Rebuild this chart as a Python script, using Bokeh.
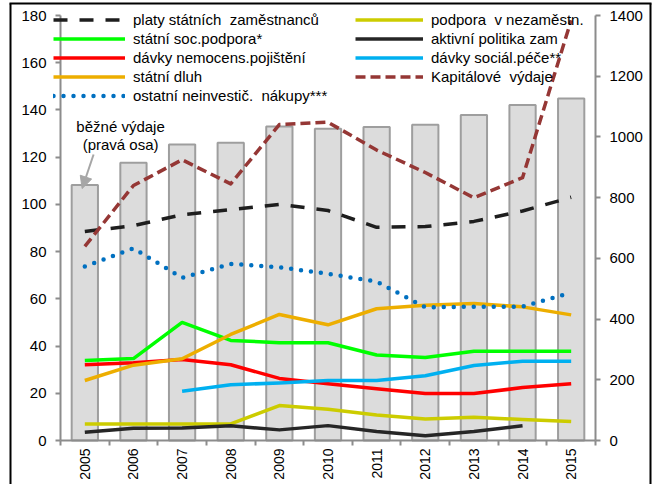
import math
from bokeh.plotting import figure
from bokeh.models import (Range1d, LinearAxis, FixedTicker, Legend, LegendItem,
                          Label, Arrow, NormalHead, ColumnDataSource)
from bokeh.embed import file_html
from bokeh.resources import INLINE

# ---------------- data ----------------
years = ["2005", "2006", "2007", "2008", "2009", "2010",
         "2011", "2012", "2013", "2014", "2015"]

# běžné výdaje (pravá osa) - bars
bezne_vydaje = [842, 915, 975, 981, 1034, 1027, 1033, 1040, 1072, 1105, 1127]

platy = [88.5, 91.0, 95.6, 97.8, 100.0, 97.4, 90.3, 90.6, 92.8, 97.2, 103.0]
soc_podpora = [33.9, 34.7, 50.0, 42.4, 41.4, 41.4, 36.2, 35.2, 37.8, 37.8, 37.8]
nemocens = [32.1, 32.9, 34.3, 32.1, 26.3, 24.0, 21.9, 19.9, 19.9, 22.4, 24.0]
dluh = [25.4, 31.9, 34.6, 44.9, 53.4, 49.0, 55.8, 57.3, 58.0, 56.6, 53.2]
ostatni = [73.7, 81.4, 68.9, 74.8, 73.4, 70.6, 67.3, 56.4, 56.7, 56.7, 62.6]
podpora_nezam = [7.0, 7.0, 7.0, 7.0, 14.8, 13.2, 10.8, 9.1, 9.8, 8.9, 8.0]
aktivni = [3.5, 5.2, 5.3, 6.2, 4.5, 6.3, 3.8, 2.0, 3.8, 6.2, None]
social_pece = [None, None, 20.9, 23.6, 24.4, 25.4, 25.4, 27.4, 31.8, 33.6, 33.6]
kapitalove = [82.2, 108.0, 118.9, 108.7, 133.8, 134.8, 123.0, 113.5, 102.8, 111.3, 178.0]

left_max, right_max = 180, 1400
left_ticks = list(range(0, left_max + 1, 20))
right_ticks = list(range(0, right_max + 1, 200))


def clean(vals):
    return [float("nan") if v is None else v for v in vals]


idx = list(range(len(years)))
n = len(years)
FONT = "Liberation Sans"
FS = "15px"
AXIS_GRAY = "#8C8C8C"

# ---------------- layout (pixels) ----------------
W, H = 652, 484
AX_L, AX_R, AX_T, AX_B = 60, 595, 15, 440   # plotting area of the axes
cw = (AX_R - AX_L) / n
ly = (AX_B - AX_T) / left_max
ry = (AX_B - AX_T) / right_max

def xd(px):
    return -0.5 + (px - AX_L) / cw

def yd(py):
    return (AX_B - py) / ly

p = figure(width=W, height=H, output_backend="svg", toolbar_location=None,
           x_range=Range1d(xd(0), xd(W)), y_range=Range1d(yd(H), yd(0)),
           min_border_left=0, min_border_right=0, min_border_top=0,
           min_border_bottom=0)
p.extra_y_ranges = {"right": Range1d(-(H - AX_B) / ry, AX_B / ry)}
p.outline_line_color = None
p.xgrid.visible = False
p.ygrid.visible = False
p.background_fill_color = "white"

# bars (right axis)
bar_src = ColumnDataSource(dict(x=idx, top=bezne_vydaje))
p.vbar(x="x", top="top", bottom=0, width=0.54, source=bar_src,
       fill_color="#DCDCDC", line_color="#9E9E9E", line_width=2,
       y_range_name="right")

def add_line(vals, color, dash="solid", width=3.5, cap="butt"):
    src = ColumnDataSource(dict(x=idx, y=clean(vals)))
    return p.line("x", "y", source=src, line_color=color, line_width=width,
                  line_dash=dash, line_cap=cap, line_join="round")

r_podpora = add_line(podpora_nezam, "#CCCC00")
r_aktivni = add_line(aktivni, "#262626")
r_nemoc = add_line(nemocens, "#FF0000")
r_social = add_line(social_pece, "#00B0F0")
r_soc = add_line(soc_podpora, "#00FF00")
r_dluh = add_line(dluh, "#EDAE00")
r_ost = add_line(ostatni, "#0070C0", dash="0 10", width=4.5, cap="round")
r_platy = add_line(platy, "#1E1E1E", dash="14 12")
r_kap = add_line(kapitalove, "#953735", dash="10 5")

# axes
p.yaxis.ticker = FixedTicker(ticks=left_ticks)
p.yaxis.fixed_location = -0.5
p.yaxis.bounds = (0, left_max)
p.xaxis.ticker = FixedTicker(ticks=idx, minor_ticks=[i - 0.5 for i in range(n + 1)])
p.xaxis.fixed_location = 0
p.xaxis.bounds = (-0.5, n - 0.5)
p.xaxis.major_label_overrides = {i: y for i, y in enumerate(years)}
p.xaxis.major_label_orientation = math.pi / 2
p.xaxis.major_tick_line_color = None
p.xaxis.major_tick_out = 0
p.xaxis.major_tick_in = 0
p.xaxis.minor_tick_out = 5
p.xaxis.minor_tick_in = 0
p.xaxis.minor_tick_line_color = AXIS_GRAY
p.xaxis.minor_tick_line_width = 2

right_axis = LinearAxis(y_range_name="right", ticker=FixedTicker(ticks=right_ticks),
                        fixed_location=n - 0.5, bounds=(0, right_max))
p.add_layout(right_axis, "right")

for ax in [p.xaxis[0], p.yaxis[0], right_axis]:
    ax.axis_line_color = AXIS_GRAY
    ax.axis_line_width = 2
    ax.major_label_text_font = FONT
    ax.major_label_text_font_size = FS
    ax.major_label_text_color = "black"
for ax in [p.yaxis[0], right_axis]:
    ax.major_tick_out = 5
    ax.major_tick_in = 0
    ax.major_tick_line_color = AXIS_GRAY
    ax.major_tick_line_width = 2
    ax.minor_tick_line_color = None
    ax.major_label_standoff = 9
p.xaxis.major_label_text_font_size = "14px"
p.xaxis.major_label_standoff = 3

# legends
def style_legend(leg, gw):
    leg.background_fill_alpha = 0
    leg.border_line_alpha = 0
    leg.padding = 0
    leg.margin = 0
    leg.spacing = 0
    leg.glyph_width = gw
    leg.glyph_height = 19
    leg.label_height = 19
    leg.label_standoff = 8
    leg.label_text_font = FONT
    leg.label_text_font_size = FS
    leg.label_text_color = "black"

leg1 = Legend(items=[
    LegendItem(label="platy státních  zaměstnanců", renderers=[r_platy]),
    LegendItem(label="státní soc.podpora*", renderers=[r_soc]),
    LegendItem(label="dávky nemocens.pojištění", renderers=[r_nemoc]),
    LegendItem(label="státní dluh", renderers=[r_dluh]),
    LegendItem(label="ostatní neinvestič.  nákupy***", renderers=[r_ost]),
], location=(53, 379))
style_legend(leg1, 72)
p.add_layout(leg1)

leg2 = Legend(items=[
    LegendItem(label="podpora  v nezaměstn.", renderers=[r_podpora]),
    LegendItem(label="aktivní politika zam", renderers=[r_aktivni]),
    LegendItem(label="dávky sociál.péče**", renderers=[r_social]),
    LegendItem(label="Kapitálové  výdaje", renderers=[r_kap]),
], location=(355, 398))
style_legend(leg2, 68)
p.add_layout(leg2)

# annotation
for txt, yv in [("běžné výdaje", 133), ("(pravá osa)", 125.4)]:
    p.add_layout(Label(x=0.735, y=yv, text=txt, text_align="center",
                       text_baseline="middle", text_font=FONT,
                       text_font_size=FS, text_color="black"))

p.add_layout(Arrow(end=NormalHead(size=12, fill_color="#A6A6A6", line_color="#A6A6A6"),
                   x_start=0.18, y_start=bezne_vydaje[0] + 100,
                   x_end=-0.055, y_end=bezne_vydaje[0] - 12,
                   y_range_name="right", line_color="#A6A6A6", line_width=2))

# chart-area border
for (x0, y0, x1, y1) in [(10, H + 5, 10, 3), (650, H + 5, 650, 3), (9, 3, 651, 3)]:
    p.add_layout(Arrow(end=None, x_start=xd(x0), y_start=yd(y0),
                       x_end=xd(x1), y_end=yd(y1),
                       line_color="black", line_width=2))

open("out.html", "w").write(file_html(p, INLINE))
